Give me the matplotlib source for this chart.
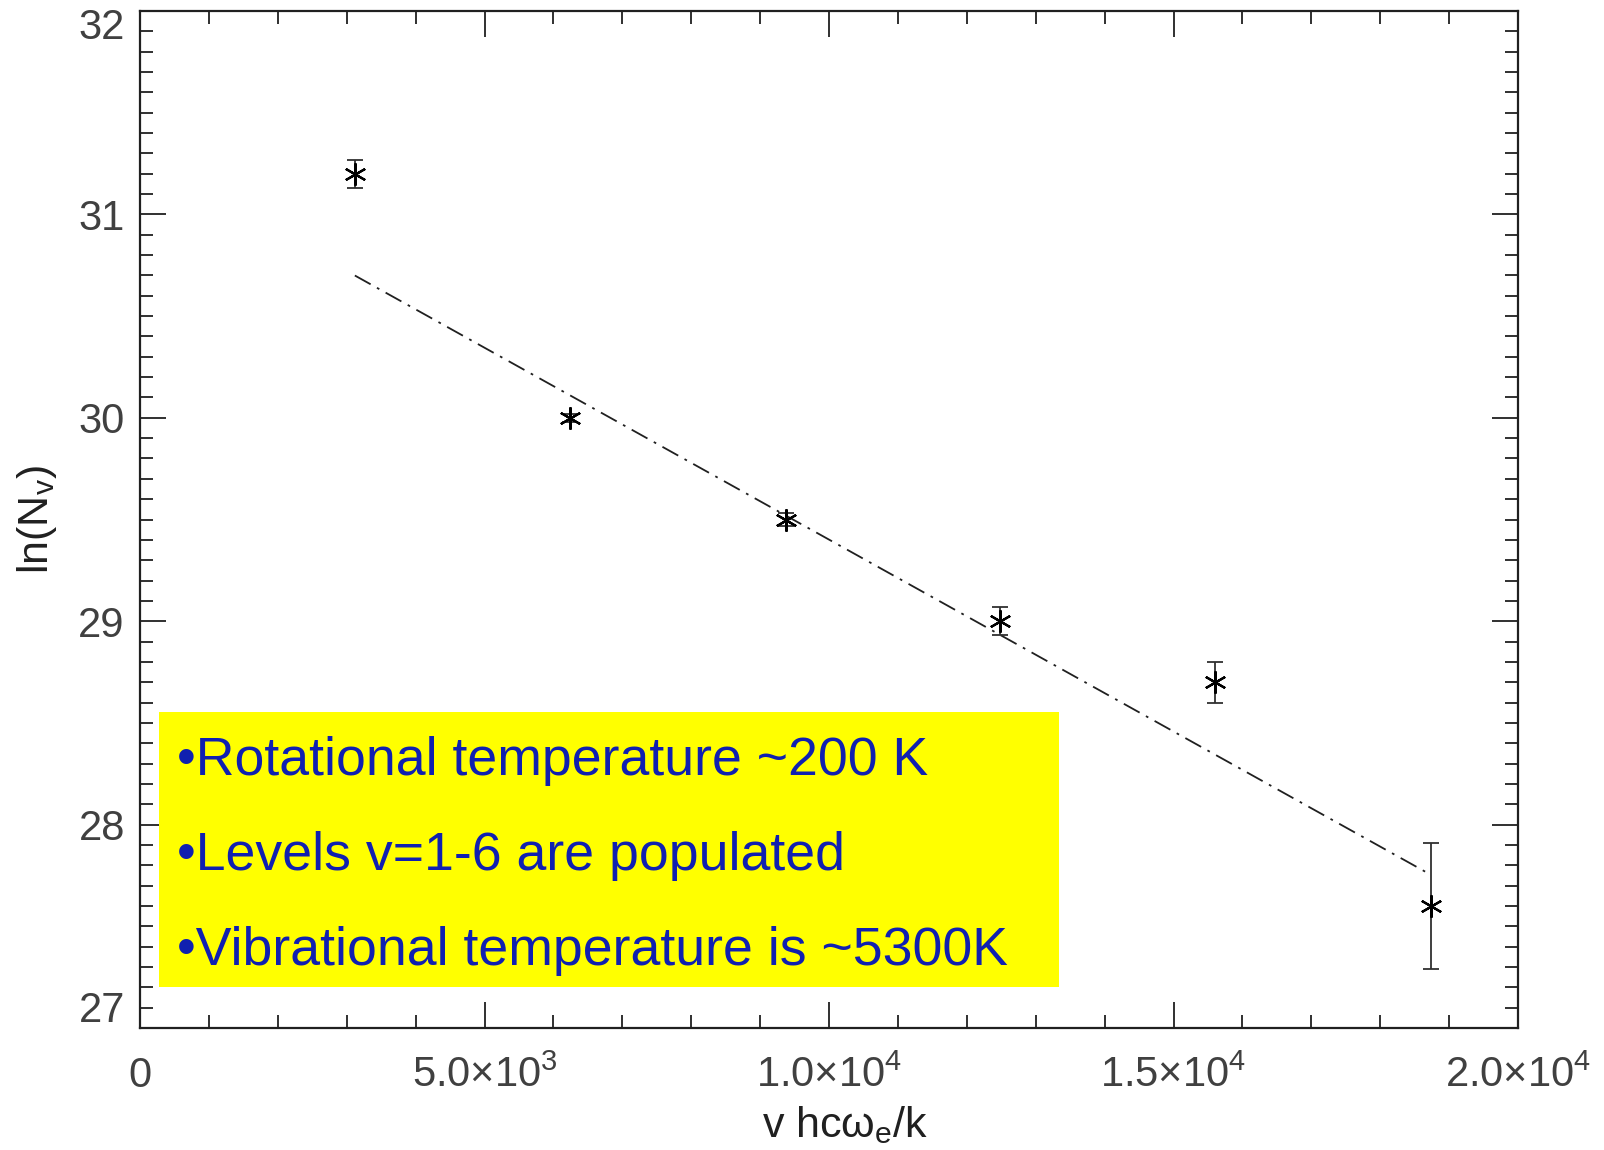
import matplotlib
matplotlib.use("Agg")
import matplotlib.pyplot as plt
from matplotlib.ticker import MultipleLocator, FuncFormatter
from matplotlib.patches import Rectangle
import numpy as np

# Vibrational population data: v * hc*omega_e / k versus ln(N_v)
x_energy = [3118, 6236, 9369, 12487, 15605, 18738]
ln_nv = [31.20, 30.00, 29.50, 29.00, 28.70, 27.60]
ln_nv_err = [0.07, 0.02, 0.03, 0.07, 0.10, 0.31]

# Boltzmann fit: ln N = a - E/T_vib
t_vib = 5300.0
fit_intercept = 31.288

y_min, y_max = 27, 32

notes = [
    "\u2022Rotational temperature ~200 K",
    "\u2022Levels v=1-6 are populated",
    "\u2022Vibrational temperature is ~5300K",
]

plt.rcParams["font.family"] = ["Liberation Sans", "DejaVu Sans"]
plt.rcParams["mathtext.fontset"] = "custom"
plt.rcParams["mathtext.rm"] = "Liberation Sans"
plt.rcParams["mathtext.it"] = "Liberation Sans"

fig = plt.figure(figsize=(16.04, 11.5), dpi=100)
ax = fig.add_axes([0.0873, 0.1061, 0.8591, 0.8843])

ax.errorbar(x_energy, ln_nv, yerr=ln_nv_err, fmt="none", ecolor="#303030",
            elinewidth=1.3, capsize=6, capthick=1.3, zorder=3)
ax.plot(x_energy, ln_nv, linestyle="none", marker=(6, 2, 0), markersize=16,
        markeredgewidth=1.6, color="black", zorder=4)

fx = np.array([x_energy[0], x_energy[-1]], dtype=float)
ax.plot(fx, fit_intercept - fx / t_vib, color="#202020", linewidth=1.3,
        linestyle=(0, (10, 4, 1.5, 4)), zorder=2)

ax.set_xlim(0, 20000)
ax.set_ylim(y_min, y_max)
ax.xaxis.set_major_locator(MultipleLocator(5000))
ax.xaxis.set_minor_locator(MultipleLocator(1000))
ax.yaxis.set_major_locator(MultipleLocator(1))
ax.yaxis.set_minor_locator(MultipleLocator(0.1))


def sci_fmt(v, pos):
    if v == 0:
        return "0"
    exp = int(np.floor(np.log10(abs(v))))
    mant = v / 10 ** exp
    return "%.1f\u00d710$^{%d}$" % (mant, exp)


def y_fmt(v, pos):
    # the end values are placed separately so they stay inside the figure
    if round(v) in (y_min, y_max):
        return ""
    return "%d" % round(v)


ax.xaxis.set_major_formatter(FuncFormatter(sci_fmt))
ax.yaxis.set_major_formatter(FuncFormatter(y_fmt))

label_color = "#404040"
ax.tick_params(which="both", direction="in", top=True, right=True,
               color="#303030", width=1.4)
ax.tick_params(which="major", length=19)
ax.tick_params(which="minor", length=9.5)
ax.tick_params(axis="x", which="major", pad=20, labelsize=30, labelcolor=label_color)
ax.tick_params(axis="y", which="major", pad=11, labelsize=30, labelcolor=label_color)
for s in ax.spines.values():
    s.set_linewidth(1.6)
    s.set_color("#202020")

ax.annotate("%d" % y_max, xy=(0, y_max), xycoords=("axes fraction", "data"),
            xytext=(-11, 2), textcoords="offset points", ha="right", va="top",
            fontsize=30, color=label_color, annotation_clip=False)
ax.annotate("%d" % y_min, xy=(0, y_min), xycoords=("axes fraction", "data"),
            xytext=(-11, -2), textcoords="offset points", ha="right", va="bottom",
            fontsize=30, color=label_color, annotation_clip=False)

ax.set_ylabel("ln(N$_\\mathregular{v}$)", fontsize=31, color="#202020", labelpad=14)
ax.set_xlabel("v hc$\\mathregular{\\omega_e}$/k", fontsize=31, color="#202020",
              labelpad=6, x=0.512)

# Annotation panel
ax.add_patch(Rectangle((0.0138, 0.0403), 0.6532, 0.2705, transform=ax.transAxes,
                       facecolor="#ffff00", edgecolor="none", zorder=5))
for i, line in enumerate(notes):
    ax.text(0.027, 0.249 - i * 0.0935, line, transform=ax.transAxes,
            fontsize=38.6, color="#1020b0", family=["Liberation Sans", "DejaVu Sans"],
            va="baseline", ha="left", zorder=6)

fig.savefig("out.png", dpi=100)
